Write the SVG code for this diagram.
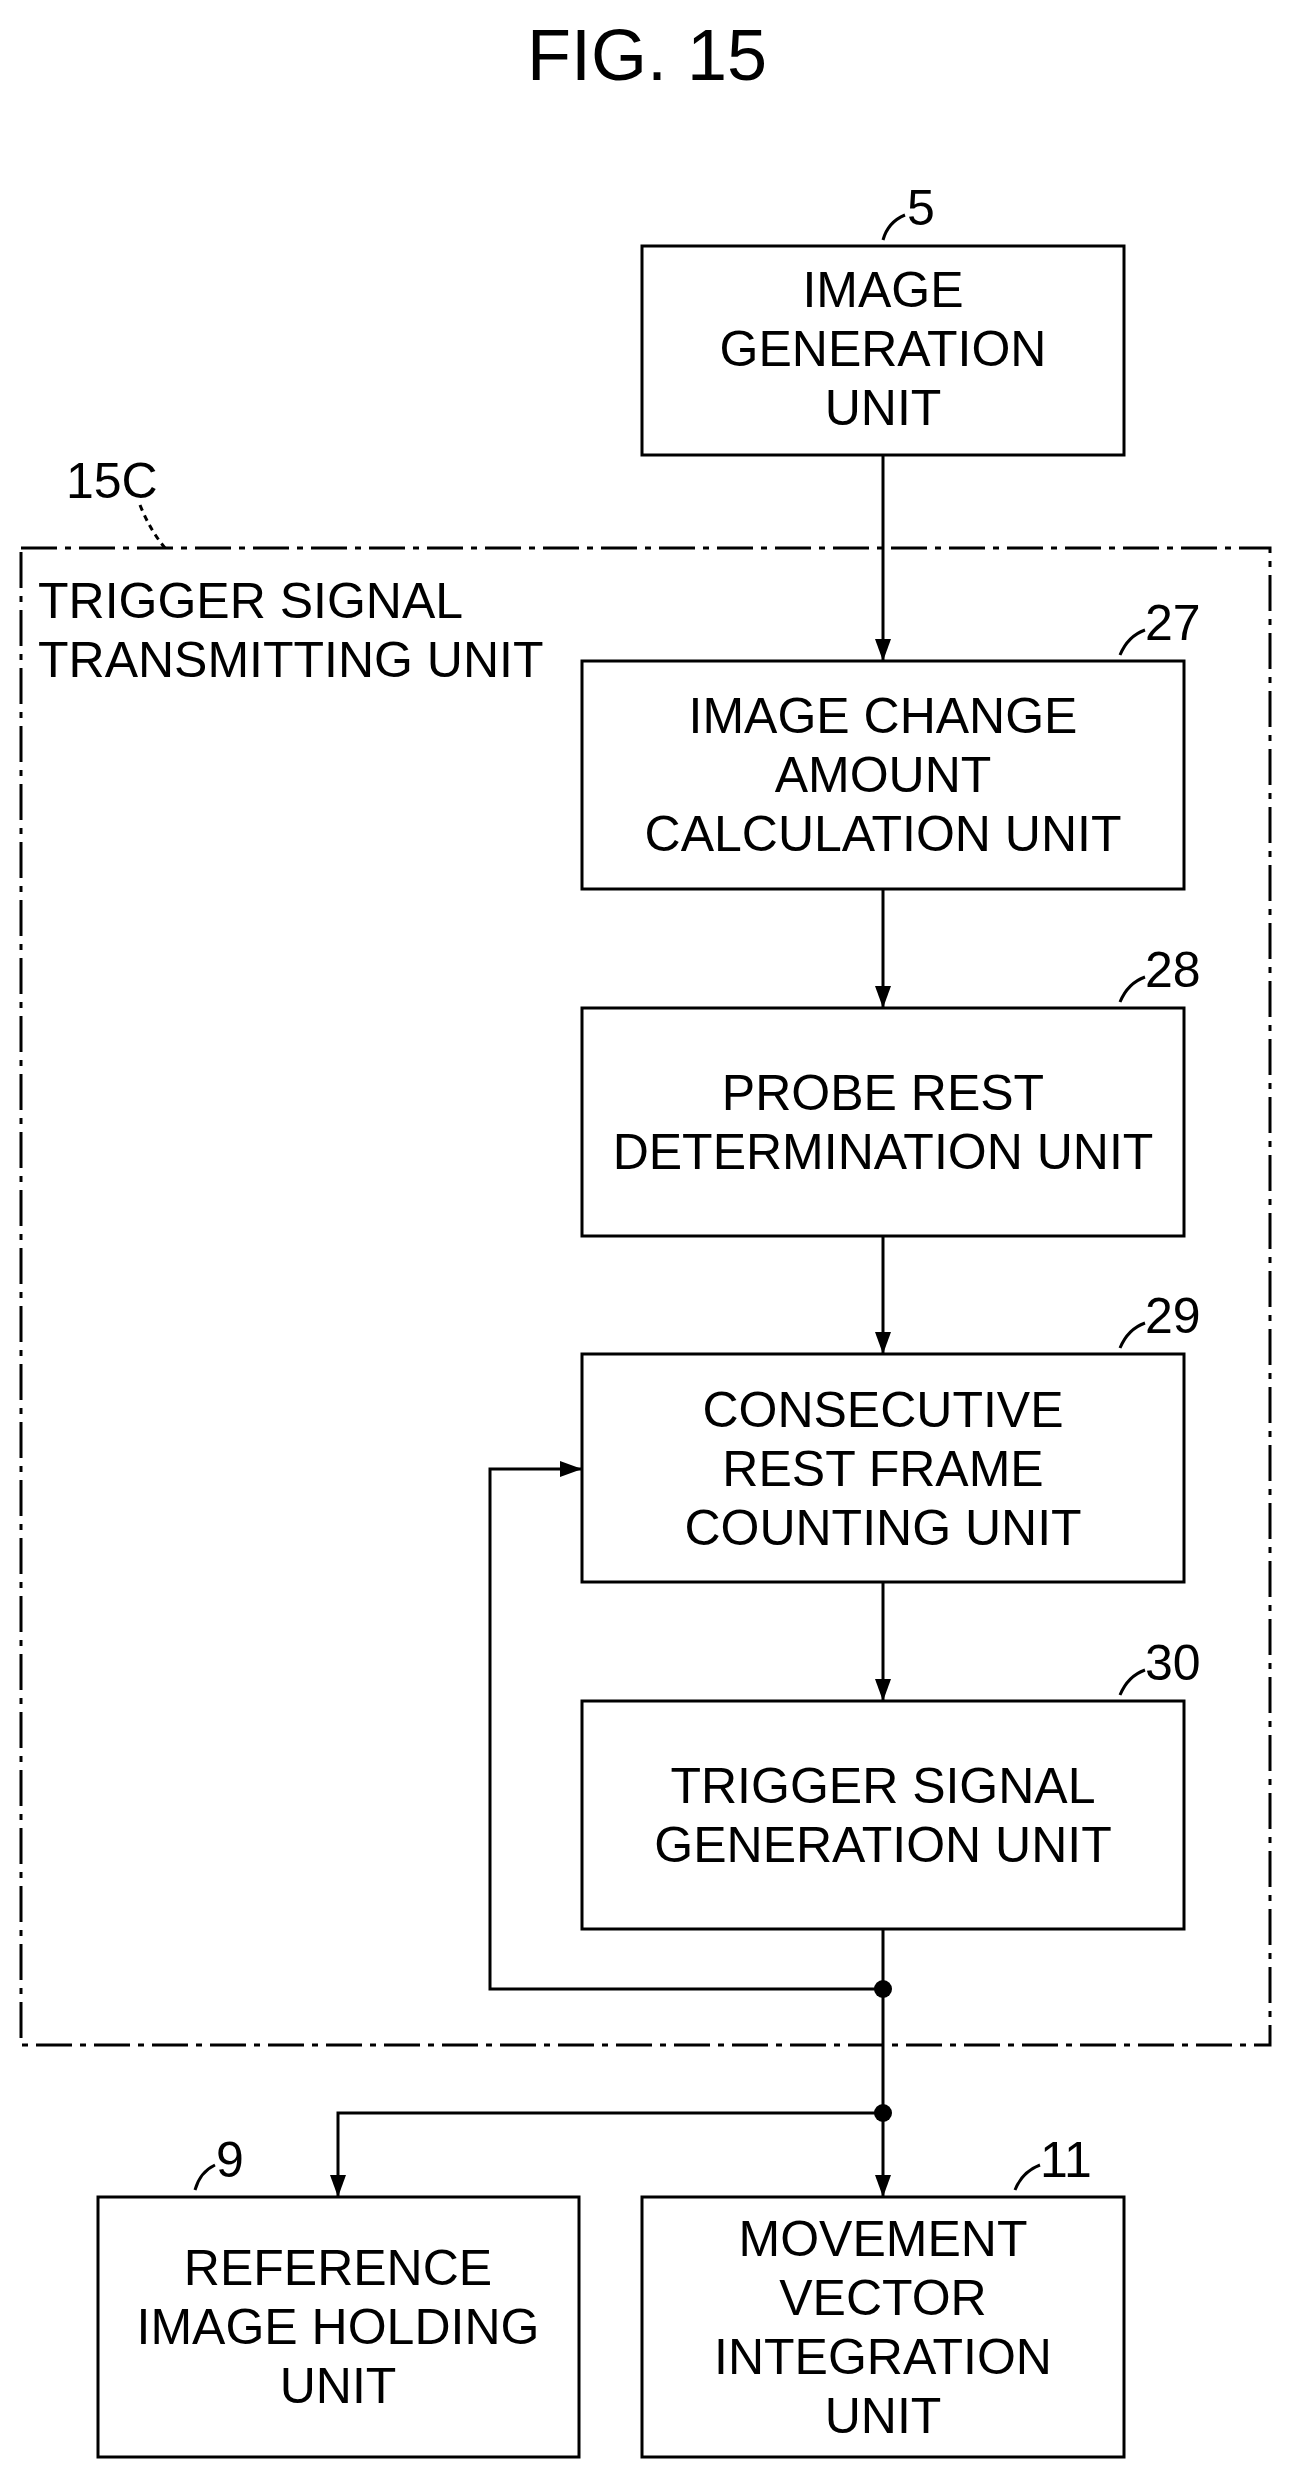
<svg xmlns="http://www.w3.org/2000/svg" width="1295" height="2490" viewBox="0 0 1295 2490">
<defs>
<style>
.b{fill:#fff;stroke:#000;stroke-width:3}
.t{font-family:"Liberation Sans",Arial,sans-serif;font-size:50px;text-anchor:middle;fill:#000}
.l{font-family:"Liberation Sans",Arial,sans-serif;font-size:50px;fill:#000}
.c{fill:none;stroke:#000;stroke-width:3}
</style>
<marker id="a" viewBox="0 0 10 10" refX="10" refY="5" markerWidth="8" markerHeight="8" orient="auto" markerUnits="userSpaceOnUse"><path d="M0,0L10,5L0,10z"/></marker>
<marker id="ah" viewBox="0 0 10 10" refX="10" refY="5" markerWidth="22" markerHeight="16" orient="auto" markerUnits="userSpaceOnUse" preserveAspectRatio="none"><path d="M0,0L10,5L0,10z"/></marker>
</defs>
<rect width="1295" height="2490" fill="#fff"/>
<text x="647" y="80" class="t" style="font-size:72px">FIG. 15</text>
<g id="u15C">
<rect x="21" y="548" width="1249" height="1497" fill="none" stroke="#000" stroke-width="3" stroke-dasharray="36,8,6,8"/>
<text x="38" y="618" class="l">TRIGGER SIGNAL</text>
<text x="38" y="677" class="l">TRANSMITTING UNIT</text>
<text x="66" y="498" class="l">15C</text>
<path d="M140,505 Q150,530 165,548" class="c" stroke-dasharray="6,5"/>
</g>
<g id="n5">
<rect x="642" y="246" width="482" height="209" class="b"/>
<text x="883" y="307" class="t">IMAGE</text><text x="883" y="366" class="t">GENERATION</text><text x="883" y="425" class="t">UNIT</text>
<text x="907" y="225" class="l">5</text><path d="M883,240 Q888,222 905,215" class="c"/>
</g>
<g id="n27">
<rect x="582" y="661" width="602" height="228" class="b"/>
<text x="883" y="733" class="t">IMAGE CHANGE</text><text x="883" y="792" class="t">AMOUNT</text><text x="883" y="851" class="t">CALCULATION UNIT</text>
<text x="1145" y="640" class="l">27</text><path d="M1120,655 Q1128,636 1145,630" class="c"/>
</g>
<g id="n28">
<rect x="582" y="1008" width="602" height="228" class="b"/>
<text x="883" y="1110" class="t">PROBE REST</text><text x="883" y="1169" class="t">DETERMINATION UNIT</text>
<text x="1145" y="987" class="l">28</text><path d="M1120,1002 Q1128,983 1145,977" class="c"/>
</g>
<g id="n29">
<rect x="582" y="1354" width="602" height="228" class="b"/>
<text x="883" y="1427" class="t">CONSECUTIVE</text><text x="883" y="1486" class="t">REST FRAME</text><text x="883" y="1545" class="t">COUNTING UNIT</text>
<text x="1145" y="1333" class="l">29</text><path d="M1120,1348 Q1128,1329 1145,1323" class="c"/>
</g>
<g id="n30">
<rect x="582" y="1701" width="602" height="228" class="b"/>
<text x="883" y="1803" class="t">TRIGGER SIGNAL</text><text x="883" y="1862" class="t">GENERATION UNIT</text>
<text x="1145" y="1680" class="l">30</text><path d="M1120,1695 Q1128,1676 1145,1670" class="c"/>
</g>
<g id="n9">
<rect x="98" y="2197" width="481" height="260" class="b"/>
<text x="338" y="2285" class="t">REFERENCE</text><text x="338" y="2344" class="t">IMAGE HOLDING</text><text x="338" y="2403" class="t">UNIT</text>
<text x="216" y="2177" class="l">9</text><path d="M195,2190 Q200,2172 215,2165" class="c"/>
</g>
<g id="n11">
<rect x="642" y="2197" width="482" height="260" class="b"/>
<text x="883" y="2256" class="t">MOVEMENT</text><text x="883" y="2315" class="t">VECTOR</text><text x="883" y="2374" class="t">INTEGRATION</text><text x="883" y="2433" class="t">UNIT</text>
<text x="1040" y="2177" class="l">11</text><path d="M1015,2190 Q1022,2172 1040,2165" class="c"/>
</g>
<g id="connectors">
<path d="M883,455V661" class="c" marker-end="url(#ah)"/>
<path d="M883,889V1008" class="c" marker-end="url(#ah)"/>
<path d="M883,1236V1354" class="c" marker-end="url(#ah)"/>
<path d="M883,1582V1701" class="c" marker-end="url(#ah)"/>
<path d="M883,1929V2197" class="c" marker-end="url(#ah)"/>
<path d="M883,1989H490V1469H582" class="c" marker-end="url(#ah)"/>
<path d="M883,2113H338V2197" class="c" marker-end="url(#ah)"/>
<circle cx="883" cy="1989" r="9"/>
<circle cx="883" cy="2113" r="9"/>
</g>
</svg>
